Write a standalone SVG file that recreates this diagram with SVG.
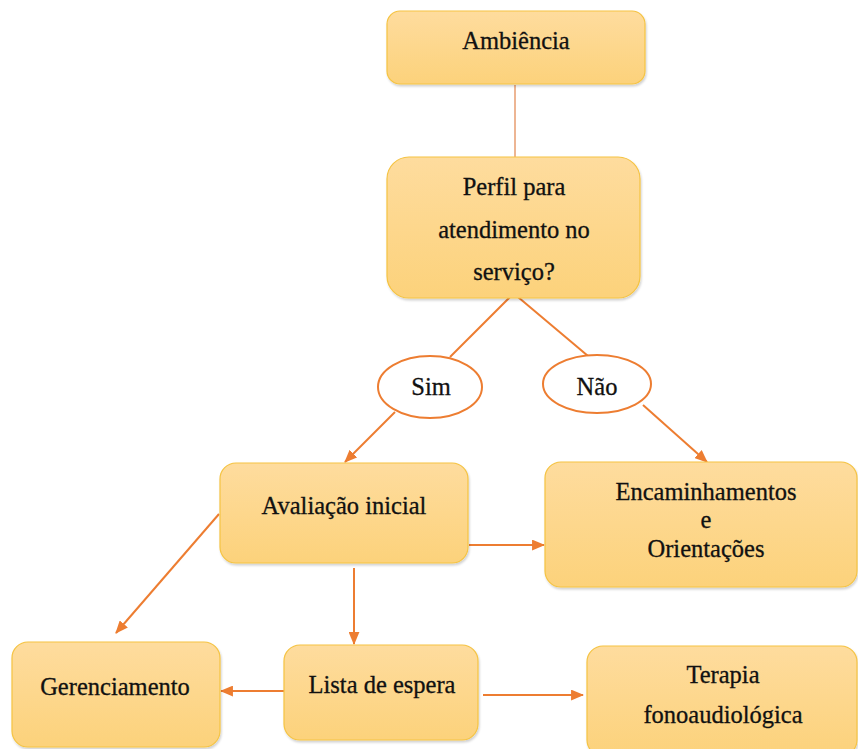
<svg xmlns="http://www.w3.org/2000/svg" width="858" height="749" viewBox="0 0 858 749">
<defs>
<linearGradient id="g" x1="0" y1="0" x2="0" y2="1">
<stop offset="0" stop-color="#FEDC9E"/>
<stop offset="1" stop-color="#FCD27B"/>
</linearGradient>
<filter id="sh" x="-5%" y="-5%" width="110%" height="115%">
<feDropShadow dx="1" dy="2" stdDeviation="1.2" flood-color="#000" flood-opacity="0.18"/>
</filter>
<marker id="ah" viewBox="0 0 12 10" refX="11" refY="5" markerWidth="6.5" markerHeight="5.5" orient="auto" markerUnits="strokeWidth">
<path d="M0,0 L12,5 L0,10 z" fill="#ED7D31"/>
</marker>
</defs>
<style>
.box{fill:url(#g);stroke:#F5C342;stroke-width:1.2;filter:url(#sh)}
.ell{fill:#fff;stroke:#ED7D31;stroke-width:2}
.t{font-family:"Liberation Serif","Times New Roman",serif;font-size:24.5px;fill:#111;stroke:#111;stroke-width:0.3;text-anchor:middle}
.c{stroke:#ED7D31;stroke-width:2;fill:none}
.ca{stroke:#ED7D31;stroke-width:2;fill:none;marker-end:url(#ah)}
</style>
<rect width="858" height="749" fill="#fff"/>
<g id="connectors">
<line x1="515" y1="85" x2="515" y2="157" stroke="#EDB593" stroke-width="2"/>
<line class="c" x1="510" y1="297" x2="450" y2="357"/>
<line class="c" x1="518" y1="297" x2="588" y2="356"/>
<line class="ca" x1="395" y1="412" x2="345" y2="462"/>
<line class="ca" x1="643" y1="405" x2="707" y2="462"/>
<line class="ca" x1="469" y1="545" x2="544" y2="545"/>
<line class="ca" x1="354" y1="568" x2="354" y2="644"/>
<line class="ca" x1="219" y1="514" x2="116" y2="633"/>
<line class="ca" x1="285" y1="691" x2="221" y2="691"/>
<line class="ca" x1="483" y1="695" x2="583" y2="695"/>
</g>
<g id="ambiencia">
<rect class="box" x="387" y="11" width="258" height="73" rx="13"/>
<text class="t" x="516" y="49">Ambiência</text>
</g>
<g id="perfil">
<rect class="box" x="387" y="157" width="253" height="141" rx="22"/>
<text class="t" x="514" y="195">Perfil para</text>
<text class="t" x="514" y="238">atendimento no</text>
<text class="t" x="514" y="280">serviço?</text>
</g>
<g id="sim">
<ellipse class="ell" cx="430" cy="387" rx="52" ry="31"/>
<text class="t" x="431" y="395">Sim</text>
</g>
<g id="nao">
<ellipse class="ell" cx="597" cy="384" rx="54" ry="29"/>
<text class="t" x="597" y="395">Não</text>
</g>
<g id="avaliacao">
<rect class="box" x="220" y="463" width="248" height="100" rx="16"/>
<text class="t" x="344" y="514">Avaliação inicial</text>
</g>
<g id="encaminhamentos">
<rect class="box" x="545" y="462" width="312" height="125" rx="16"/>
<text class="t" x="706" y="500">Encaminhamentos</text>
<text class="t" x="706" y="528">e</text>
<text class="t" x="706" y="557">Orientações</text>
</g>
<g id="gerenciamento">
<rect class="box" x="12" y="642" width="208" height="105" rx="16"/>
<text class="t" x="115" y="695">Gerenciamento</text>
</g>
<g id="lista">
<rect class="box" x="284" y="645" width="194" height="95" rx="16"/>
<text class="t" x="382" y="693">Lista de espera</text>
</g>
<g id="terapia">
<rect class="box" x="587" y="646" width="270" height="110" rx="16"/>
<text class="t" x="723" y="683">Terapia</text>
<text class="t" x="723" y="723">fonoaudiológica</text>
</g>
</svg>
